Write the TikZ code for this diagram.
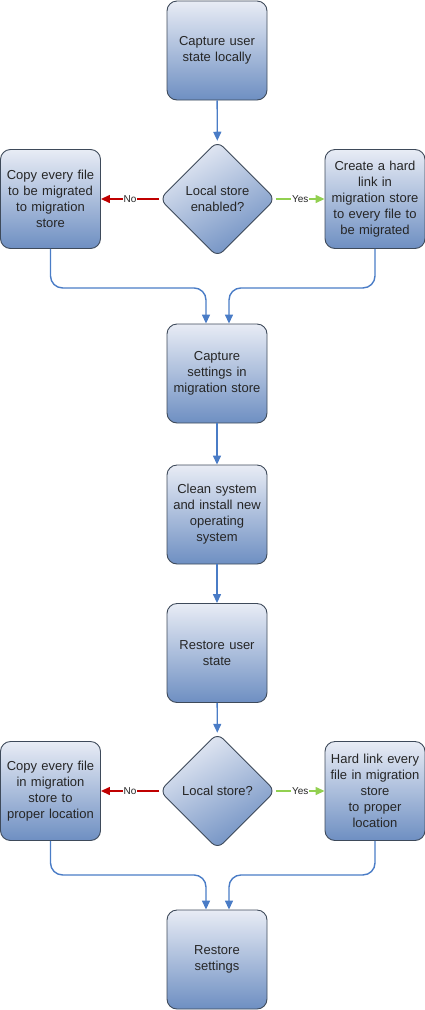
\documentclass[tikz,border=0pt]{standalone}
\usepackage{fontspec}
\setmainfont{Liberation Sans}
\usetikzlibrary{shapes.geometric,arrows.meta,positioning}
\definecolor{boxtop}{HTML}{E8ECF5}
\definecolor{boxbot}{HTML}{6E8FC2}
\definecolor{boxline}{HTML}{3E4A5A}
\definecolor{flowblue}{HTML}{4A7CC6}
\definecolor{noline}{HTML}{C00000}
\definecolor{yesline}{HTML}{92D050}
\tikzset{
    stepbox/.style={draw=boxline,line width=0.9pt,rounded corners=10pt,
        top color=boxtop,bottom color=boxbot,minimum width=100pt,
        minimum height=99pt,text width=96pt,align=center,inner sep=0pt,
        font=\fontsize{13}{16}\selectfont,text=black!85},
    choice/.style={diamond,aspect=1,draw=boxline,line width=0.9pt,
        rounded corners=8pt,top color=boxtop,bottom color=boxbot,
        shading angle=30,minimum size=116pt,inner sep=0pt,align=center,
        font=\fontsize{13}{16}\selectfont,text=black!85},
    flow/.style={draw=flowblue,line width=1.4pt,rounded corners=12pt,
        -{Triangle[length=9pt,width=8pt]}},
    answer/.style={line width=1.4pt,-{Triangle[length=9pt,width=8pt]}},
    tag/.style={fill=white,inner sep=1pt,font=\fontsize{10}{12}\selectfont,
        text=black!85}
}
\begin{document}
\begin{tikzpicture}[x=1pt,y=1pt]
        \useasboundingbox (0,0) rectangle (425,-1010);
        % Steps
        \node (capture) at (217,-50.5) [stepbox] {Capture user\\state locally};
        \node (ask1) at (217.5,-199) [choice] {Local store\\enabled?};
        \node (copy1) at (50.5,-199) [stepbox]
            {Copy every file\\to be migrated\\to migration\\store};
        \node (link1) at (375,-199) [stepbox]
            {Create a hard\\link in\\migration store\\to every file to\\be migrated};
        \node (settings) at (217,-373.5) [stepbox]
            {Capture\\settings in\\migration store};
        \node (clean) at (217,-514.5) [stepbox]
            {Clean system\\and install new\\operating\\system};
        \node (restore) at (217,-653) [stepbox] {Restore user\\state};
        \node (ask2) at (217.5,-791) [choice] {Local store?};
        \node (copy2) at (50.5,-791) [stepbox]
            {Copy every file\\in migration\\store to\\proper location};
        \node (link2) at (375,-791) [stepbox]
            {Hard link every\\file in migration\\store\\to proper\\location};
        \node (rsettings) at (217,-959.5) [stepbox] {Restore\\settings};
        % Connectors
        \draw [flow] (capture) -- (ask1);
        \draw [answer,noline] (ask1) -- node [tag] {No} (copy1);
        \draw [answer,yesline] (ask1) -- node [tag] {Yes} (link1);
        \draw [flow] (copy1.south) -- ++(0,-39) -| ([xshift=-11pt]settings.north);
        \draw [flow] (link1.south) -- ++(0,-39) -| ([xshift=12pt]settings.north);
        \draw [flow] (settings) -- (clean);
        \draw [flow] (clean) -- (restore);
        \draw [flow] (restore) -- (ask2);
        \draw [answer,noline] (ask2) -- node [tag] {No} (copy2);
        \draw [answer,yesline] (ask2) -- node [tag] {Yes} (link2);
        \draw [flow] (copy2.south) -- ++(0,-34) -| ([xshift=-11pt]rsettings.north);
        \draw [flow] (link2.south) -- ++(0,-34) -| ([xshift=12pt]rsettings.north);
    \end{tikzpicture}
\end{document}
